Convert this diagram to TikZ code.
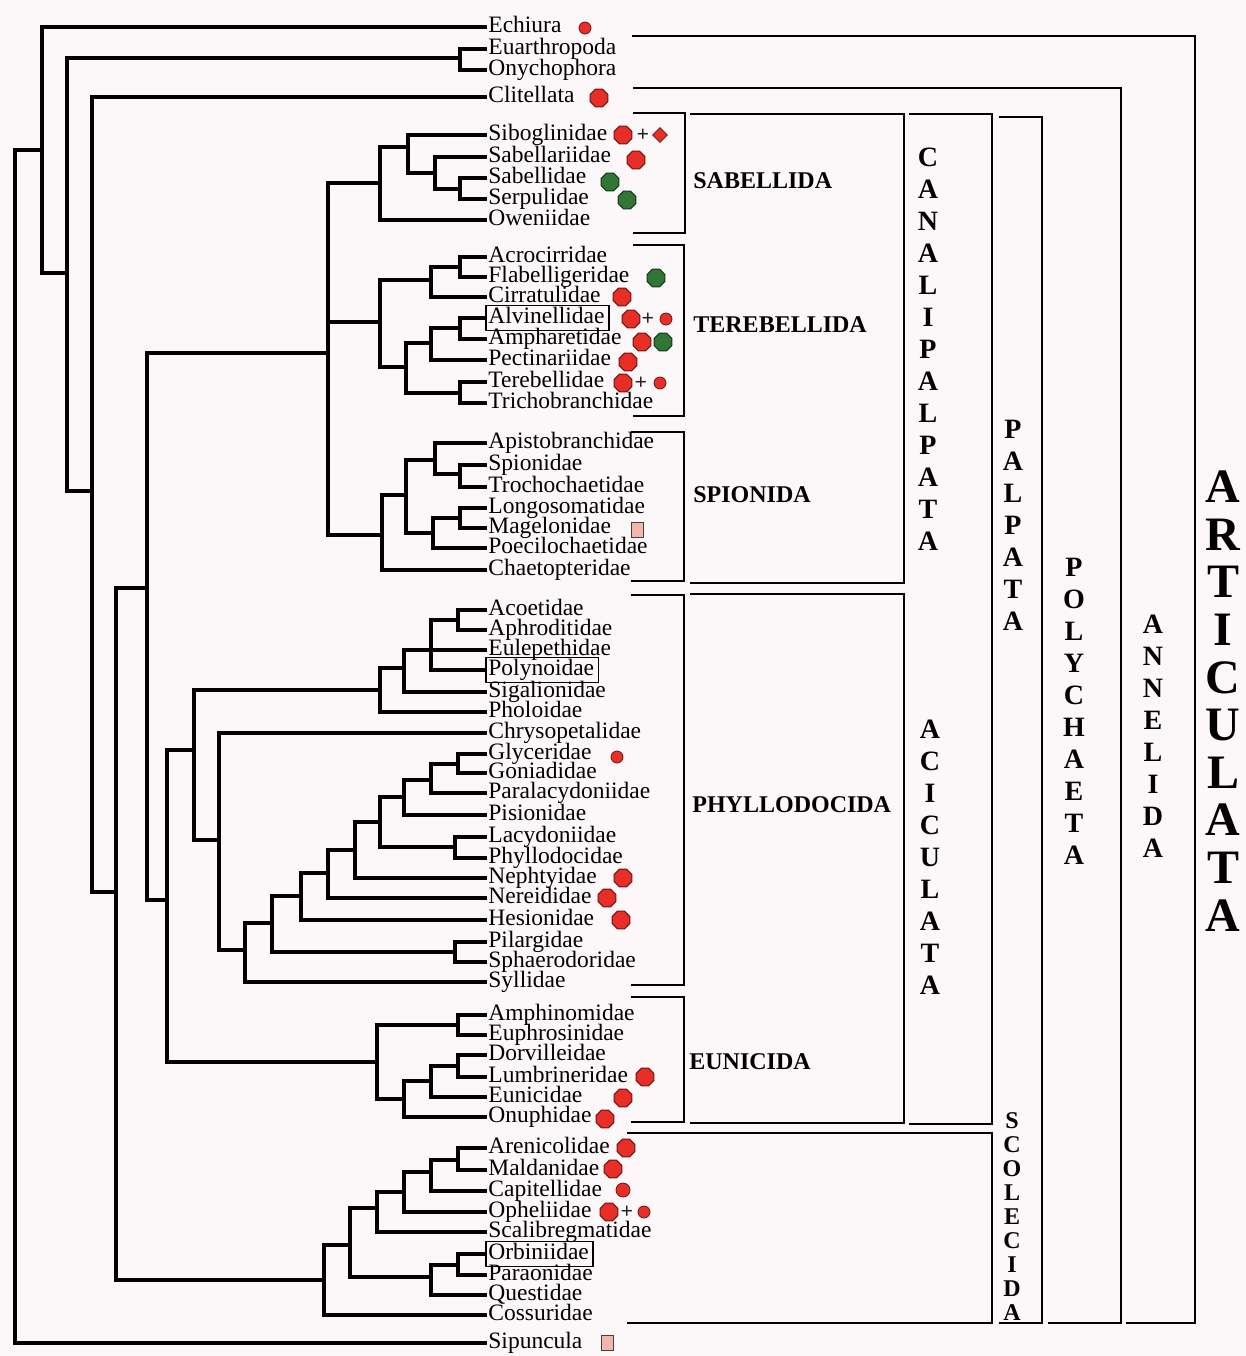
\documentclass[tikz,border=0pt]{standalone}
\usepackage{fontspec}
\setmainfont{Liberation Serif}
\usetikzlibrary{shapes.geometric}
\definecolor{bgpaper}{RGB}{252,248,250}
\definecolor{dotred}{RGB}{232,46,38}
\definecolor{dotredline}{RGB}{110,20,18}
\definecolor{dotgreen}{RGB}{50,118,54}
\definecolor{dotgreenline}{RGB}{18,55,22}
\definecolor{sqpink}{RGB}{243,182,172}
\begin{document}
\begin{tikzpicture}[x=0.5pt, y=-0.5pt,
  taxon/.style = {anchor=west, inner sep=0.5pt, text height=7pt, text depth=2pt,
    font=\fontsize{11.75}{12}\selectfont},
  branch/.style = {line width=2.2pt},
  brack/.style = {line width=1.2pt},
  ordername/.style = {anchor=west, inner sep=0pt, font=\fontsize{12}{14}\selectfont\bfseries},
  vlab/.style = {align=center, inner sep=0pt, font=\fontsize{14}{16}\selectfont\bfseries},
  redoct/.style = {regular polygon, regular polygon sides=8, minimum size=9.5pt,
    inner sep=0pt, fill=dotred, draw=dotredline, line width=0.5pt},
  greenoct/.style = {redoct, fill=dotgreen, draw=dotgreenline},
  reddot/.style = {circle, minimum size=6pt, inner sep=0pt, fill=dotred,
    draw=dotredline, line width=0.4pt},
  reddiam/.style = {diamond, minimum size=7.5pt, inner sep=0pt, fill=dotred,
    draw=dotredline, line width=0.4pt},
  pinksq/.style = {rectangle, minimum width=6pt, minimum height=7.5pt, inner sep=0pt,
    fill=sqpink, draw=black!75, line width=0.5pt},
  plussign/.style = {inner sep=0pt, text=black!85, font=\fontsize{11}{11}\selectfont\bfseries}]

\fill[bgpaper] (0,0) rectangle (1246,1356);
\useasboundingbox (0,0) rectangle (1246,1356);

\foreach \n/\y in {Echiura/27, Euarthropoda/49, Onychophora/70, Clitellata/97,
  Siboglinidae/135, Sabellariidae/157, Sabellidae/178, Serpulidae/199, Oweniidae/220,
  Acrocirridae/257, Flabelligeridae/277, Cirratulidae/297, Alvinellidae/318,
  Ampharetidae/339, Pectinariidae/360, Terebellidae/382, Trichobranchidae/403,
  Apistobranchidae/443, Spionidae/465, Trochochaetidae/487, Longosomatidae/508,
  Magelonidae/528, Poecilochaetidae/548, Chaetopteridae/570,
  Acoetidae/610, Aphroditidae/630, Eulepethidae/650, Polynoidae/670,
  Sigalionidae/692, Pholoidae/712, Chrysopetalidae/733, Glyceridae/754,
  Goniadidae/773, Paralacydoniidae/793, Pisionidae/815, Lacydoniidae/837,
  Phyllodocidae/858, Nephtyidae/878, Nereididae/898, Hesionidae/920,
  Pilargidae/942, Sphaerodoridae/962, Syllidae/982,
  Amphinomidae/1015, Euphrosinidae/1035, Dorvilleidae/1055, Lumbrineridae/1077,
  Eunicidae/1097, Onuphidae/1117,
  Arenicolidae/1148, Maldanidae/1170, Capitellidae/1191, Opheliidae/1212,
  Scalibregmatidae/1232, Orbiniidae/1254, Paraonidae/1275, Questidae/1295,
  Cossuridae/1315, Sipuncula/1343}
  \node[taxon] (\n) at (487,\y) {\n};

\foreach \n in {Alvinellidae, Polynoidae, Orbiniidae}
  \draw[line width=0.8pt] ([shift={(-1,2)}]\n.south west)
    rectangle ([shift={(3,-2)}]\n.north east);

\coordinate (root) at (15,746);
\coordinate (nA) at (42,150);
\coordinate (nB) at (67,273);
\coordinate (nEO) at (460,58);
\coordinate (nC) at (92,491);
\coordinate (nD) at (116,892);
\coordinate (nE) at (147,588);
\coordinate (canal) at (328,353);
\coordinate (nF) at (167,900);
\coordinate (nG) at (194,750);
\coordinate (nH) at (219,840);
\coordinate (sab) at (380,183);
\coordinate (sab1) at (408,147);
\coordinate (sab2) at (435,173);
\coordinate (sab3) at (460,189);
\coordinate (ter) at (380,322);
\coordinate (ter1) at (431,280);
\coordinate (ter2) at (460,267);
\coordinate (ter3) at (406,367);
\coordinate (ter4) at (431,343);
\coordinate (ter5) at (460,328);
\coordinate (ter6) at (460,393);
\coordinate (spi) at (382,535);
\coordinate (spi1) at (406,495);
\coordinate (spi2) at (435,460);
\coordinate (spi3) at (460,474);
\coordinate (spi4) at (433,533);
\coordinate (spi5) at (460,518);
\coordinate (aph) at (380,690);
\coordinate (aph1) at (404,668);
\coordinate (aph2) at (431,650);
\coordinate (aph3) at (458,620);
\coordinate (phy0) at (404,797);
\coordinate (phy1) at (380,822);
\coordinate (phy2) at (355,850);
\coordinate (phy3) at (328,873);
\coordinate (phy4) at (301,896);
\coordinate (phy5) at (272,923);
\coordinate (phy6) at (245,950);
\coordinate (phy7) at (455,952);
\coordinate (phy8) at (455,847);
\coordinate (phya) at (431,780);
\coordinate (phyb) at (458,764);
\coordinate (eun) at (377,1062);
\coordinate (eun1) at (458,1025);
\coordinate (eun2) at (404,1099);
\coordinate (eun3) at (431,1081);
\coordinate (eun4) at (458,1066);
\coordinate (scol) at (324,1280);
\coordinate (scol1) at (350,1245);
\coordinate (scol2) at (377,1208);
\coordinate (scol3) at (404,1192);
\coordinate (scol4) at (431,1172);
\coordinate (scol5) at (458,1160);
\coordinate (scol6) at (431,1277);
\coordinate (scol7) at (458,1265);

\foreach \p/\c in {root/nA, root/Sipuncula, nA/Echiura, nA/nB, nB/nEO, nB/nC,
  nEO/Euarthropoda, nEO/Onychophora, nC/Clitellata, nC/nD, nD/nE, nD/scol,
  nE/canal, nE/nF, nF/nG, nF/eun, nG/aph, nG/nH,
  canal/sab, canal/ter, canal/spi,
  sab/sab1, sab/Oweniidae, sab1/Siboglinidae, sab1/sab2, sab2/Sabellariidae,
  sab2/sab3, sab3/Sabellidae, sab3/Serpulidae,
  ter/ter1, ter/ter3, ter1/ter2, ter1/Cirratulidae, ter2/Acrocirridae,
  ter2/Flabelligeridae, ter3/ter4, ter3/ter6, ter4/ter5, ter4/Pectinariidae,
  ter5/Alvinellidae, ter5/Ampharetidae, ter6/Terebellidae, ter6/Trichobranchidae,
  spi/spi1, spi/Chaetopteridae, spi1/spi2, spi1/spi4, spi2/Apistobranchidae,
  spi2/spi3, spi3/Spionidae, spi3/Trochochaetidae, spi4/spi5,
  spi4/Poecilochaetidae, spi5/Longosomatidae, spi5/Magelonidae,
  aph/aph1, aph/Pholoidae, aph1/aph2, aph1/Sigalionidae, aph2/aph3,
  aph2/Eulepethidae, aph2/Polynoidae, aph3/Acoetidae, aph3/Aphroditidae,
  nH/Chrysopetalidae, nH/phy6, phy6/phy5, phy6/Syllidae, phy5/phy4, phy5/phy7,
  phy7/Pilargidae, phy7/Sphaerodoridae, phy4/phy3, phy4/Hesionidae,
  phy3/phy2, phy3/Nereididae, phy2/phy1, phy2/Nephtyidae, phy1/phy0, phy1/phy8,
  phy8/Lacydoniidae, phy8/Phyllodocidae, phy0/phya, phy0/Pisionidae,
  phya/phyb, phya/Paralacydoniidae, phyb/Glyceridae, phyb/Goniadidae,
  eun/eun1, eun/eun2, eun1/Amphinomidae, eun1/Euphrosinidae, eun2/eun3,
  eun2/Onuphidae, eun3/eun4, eun3/Eunicidae, eun4/Dorvilleidae, eun4/Lumbrineridae,
  scol/scol1, scol/Cossuridae, scol1/scol2, scol1/scol6, scol2/scol3,
  scol2/Scalibregmatidae, scol3/scol4, scol3/Opheliidae, scol4/scol5,
  scol4/Capitellidae, scol5/Arenicolidae, scol5/Maldanidae, scol6/scol7,
  scol6/Questidae, scol7/Orbiniidae, scol7/Paraonidae}
  \draw[branch] (\p) |- (\c);

\foreach \x/\y [count=\i] in {599/98, 623/135, 636/160, 622/297, 631/319, 642/342,
  628/362, 623/383, 623/878, 607/898, 621/920, 645/1077, 623/1098, 605/1119,
  626/1148, 613/1169, 609/1212}
  \node[redoct] (ro\i) at (\x,\y) {};
\foreach \x/\y [count=\i] in {610/182, 627/200, 656/278, 663/342}
  \node[greenoct] (go\i) at (\x,\y) {};
\foreach \x/\y [count=\i] in {585/28, 666/319, 660/383, 617/757, 644/1212}
  \node[reddot] (rd\i) at (\x,\y) {};
\node[reddot, minimum size=7pt] (rd6) at (623,1190) {};
\node[reddiam] (rdm1) at (660,135) {};
\foreach \x/\y [count=\i] in {643/135, 648/319, 641/383, 627/1212}
  \node[plussign] (pl\i) at (\x,\y) {+};
\node[pinksq] (ps1) at (637,530) {};
\node[pinksq] (ps2) at (607,1343) {};

\node[ordername] (sabellida) at (693,181) {SABELLIDA};
\node[ordername] (terebellida) at (693,325) {TEREBELLIDA};
\node[ordername] (spionida) at (693,495) {SPIONIDA};
\node[ordername] (phyllodocida) at (692,805) {PHYLLODOCIDA};
\node[ordername] (eunicida) at (689,1062) {EUNICIDA};

\draw[brack] (633,113) -| (685,233) -- (633,233);
\draw[brack] (633,245) -| (684,416) -- (633,416);
\draw[brack] (631,432) -| (684,581) -- (631,581);
\draw[brack] (631,595) -| (684,985) -- (631,985);
\draw[brack] (631,997) -| (684,1122) -- (631,1122);
\draw[brack] (690,114) -| (904,583) -- (690,583);
\draw[brack] (690,594) -| (904,1123) -- (690,1123);
\draw[brack] (909,114) -| (992,1124) -- (909,1124);
\draw[brack] (627,1133) -| (992,1323) -- (627,1323);
\draw[brack] (999,117) -| (1042,1323) -- (999,1323);
\draw[brack] (633,88) -| (1121,1323) -- (1048,1323);
\draw[brack] (632,36) -| (1195,1323) -- (1126,1323);

\node[vlab] (canalipalpata) at (928,349) {C\\A\\N\\A\\L\\I\\P\\A\\L\\P\\A\\T\\A};
\node[vlab] (aciculata) at (930,857) {A\\C\\I\\C\\U\\L\\A\\T\\A};
\node[vlab] (palpata) at (1013,525) {P\\A\\L\\P\\A\\T\\A};
\node[vlab, font=\fontsize{12}{12}\selectfont\bfseries] (scolecida) at (1012,1217)
  {S\\C\\O\\L\\E\\C\\I\\D\\A};
\node[vlab] (polychaeta) at (1074,711) {P\\O\\L\\Y\\C\\H\\A\\E\\T\\A};
\node[vlab] (annelida) at (1153,736) {A\\N\\N\\E\\L\\I\\D\\A};
\node[vlab, font=\fontsize{24}{23.8}\selectfont\bfseries] (articulata) at (1223,701)
  {A\\R\\T\\I\\C\\U\\L\\A\\T\\A};
\end{tikzpicture}
\end{document}
